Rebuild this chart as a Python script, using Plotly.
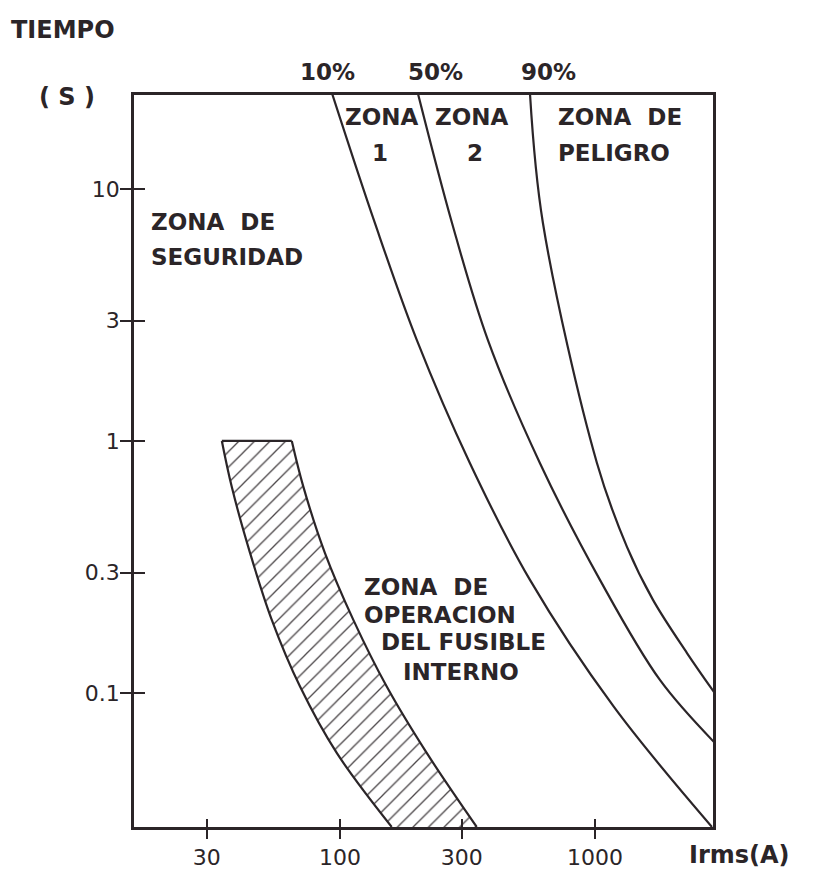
import plotly.graph_objects as go

# ---------------- data ----------------
# Curves: current Irms (A) vs time (s)
c10_I = [93, 137, 200, 323, 556, 1187, 2876]
c10_t = [24, 7.33, 2.52, 0.818, 0.281, 0.088, 0.0294]

c50_I = [202, 275, 380, 608, 1046, 1798, 2929]
c50_t = [24, 7.33, 2.52, 0.818, 0.281, 0.1126, 0.0639]

c90_I = [556, 625, 1018, 1335, 1689, 2296, 2929]
c90_t = [24, 7.33, 0.818, 0.380, 0.234, 0.144, 0.1009]

# Internal fuse operating band
fuse_left_I = [34.4, 37.6, 44.4, 54.0, 69.7, 97.1, 159.5]
fuse_left_t = [1.0, 0.659, 0.359, 0.195, 0.106, 0.0578, 0.0294]
fuse_right_I = [64.7, 71.8, 87.3, 112.8, 152.5, 218.8, 343.7]
fuse_right_t = [1.0, 0.659, 0.359, 0.195, 0.106, 0.0578, 0.0294]

x_ticks = [30, 100, 300, 1000]
x_tick_labels = ["30", "100", "300", "1000"]
y_ticks = [0.1, 0.3, 1, 3, 10]
y_tick_labels = ["0.1", "0.3", "1", "3", "10"]

INK = "#2b2528"
FONT = "DejaVu Sans"

W, H = 815, 886
OFF = 8  # default page body margin
L, R, T, B = 134, 713, 95, 827  # plot area in page pixels
FW, FH = W - OFF, H - OFF


def px(xp):
    return (xp - L) / (R - L)


def py(yp):
    return (B - yp) / (B - T)


fig = go.Figure()

spl = dict(color=INK, width=2.2, shape="spline", smoothing=1.0)

# hatched band (fill between the two boundaries)
fig.add_trace(go.Scatter(x=fuse_left_I, y=fuse_left_t, mode="lines", line=spl,
                         hoverinfo="skip", showlegend=False))
fig.add_trace(go.Scatter(x=fuse_right_I, y=fuse_right_t, mode="lines", line=spl,
                         fill="tonextx", fillcolor="rgba(255,255,255,0)",
                         fillpattern=dict(shape="/", size=11, solidity=0.12,
                                          fgcolor=INK, fgopacity=0.85),
                         hoverinfo="skip", showlegend=False))
# top cap of the band
fig.add_trace(go.Scatter(x=[fuse_left_I[0], fuse_right_I[0]],
                         y=[fuse_left_t[0], fuse_right_t[0]], mode="lines",
                         line=dict(color=INK, width=2.2),
                         hoverinfo="skip", showlegend=False))

for xs, ys in [(c10_I, c10_t), (c50_I, c50_t), (c90_I, c90_t)]:
    fig.add_trace(go.Scatter(x=xs, y=ys, mode="lines", line=spl,
                             hoverinfo="skip", showlegend=False))

# dummy trace for overlay axes (ticks crossing the axis line)
fig.add_trace(go.Scatter(x=[None], y=[None], xaxis="x2", yaxis="y2",
                         mode="lines", hoverinfo="skip", showlegend=False))

xr = [1.192, 3.463]
yr = [-1.532, 1.373]

tickfont = dict(family=FONT, size=22, color=INK)
fig.update_layout(
    width=FW, height=FH,
    margin=dict(l=L - OFF, r=OFF + FW - R, t=T - OFF, b=OFF + FH - B),
    paper_bgcolor="white", plot_bgcolor="white",
    font=dict(family=FONT, size=22, color=INK),
    xaxis=dict(type="log", range=xr, showgrid=False, zeroline=False,
               showline=True, linecolor=INK, linewidth=2.5, mirror=True,
               ticks="outside", ticklen=9, tickwidth=2.2, tickcolor=INK,
               tickvals=x_ticks, ticktext=x_tick_labels, tickfont=tickfont),
    yaxis=dict(type="log", range=yr, showgrid=False, zeroline=False,
               showline=True, linecolor=INK, linewidth=2.5, mirror=True,
               ticks="outside", ticklen=11, tickwidth=2.2, tickcolor=INK,
               ticklabelstandoff=-4,
               tickvals=y_ticks, ticktext=y_tick_labels, tickfont=tickfont),
    xaxis2=dict(type="log", range=xr, overlaying="x", anchor="y", side="bottom",
                showgrid=False, zeroline=False, showline=False,
                ticks="inside", ticklen=8, tickwidth=2.2, tickcolor=INK,
                tickvals=x_ticks, showticklabels=False),
    yaxis2=dict(type="log", range=yr, overlaying="y", anchor="x", side="left",
                showgrid=False, zeroline=False, showline=False,
                ticks="inside", ticklen=11, tickwidth=2.2, tickcolor=INK,
                tickvals=y_ticks, showticklabels=False),
)

labels = [
    ("TIEMPO", 10, 30, "left", 24),
    ("( S )", 67, 97, "center", 24),
    ("10%", 327, 72, "center", 23),
    ("50%", 435, 72, "center", 23),
    ("90%", 548, 72, "center", 23),
    ("ZONA", 381, 117, "center", 23),
    ("1", 380, 153, "center", 23),
    ("ZONA", 471, 117, "center", 23),
    ("2", 475, 153, "center", 23),
    ("ZONA  DE", 557, 117, "left", 23),
    ("PELIGRO", 557, 153, "left", 23),
    ("ZONA  DE", 150, 222, "left", 23),
    ("SEGURIDAD", 150, 257, "left", 23),
    ("ZONA  DE", 363, 587, "left", 23),
    ("OPERACION", 363, 615, "left", 23),
    ("DEL FUSIBLE", 380, 642, "left", 23),
    ("INTERNO", 402, 672, "left", 23),
    ("Irms(A)", 688, 855, "left", 24),
]
for text, xp, yp, anc, fs in labels:
    fig.add_annotation(text=text, xref="paper", yref="paper",
                       x=px(xp), y=py(yp), xanchor=anc, yanchor="middle",
                       showarrow=False, borderpad=0,
                       font=dict(family=FONT, size=fs, color=INK, weight="bold"))

fig.write_html("out.html")
